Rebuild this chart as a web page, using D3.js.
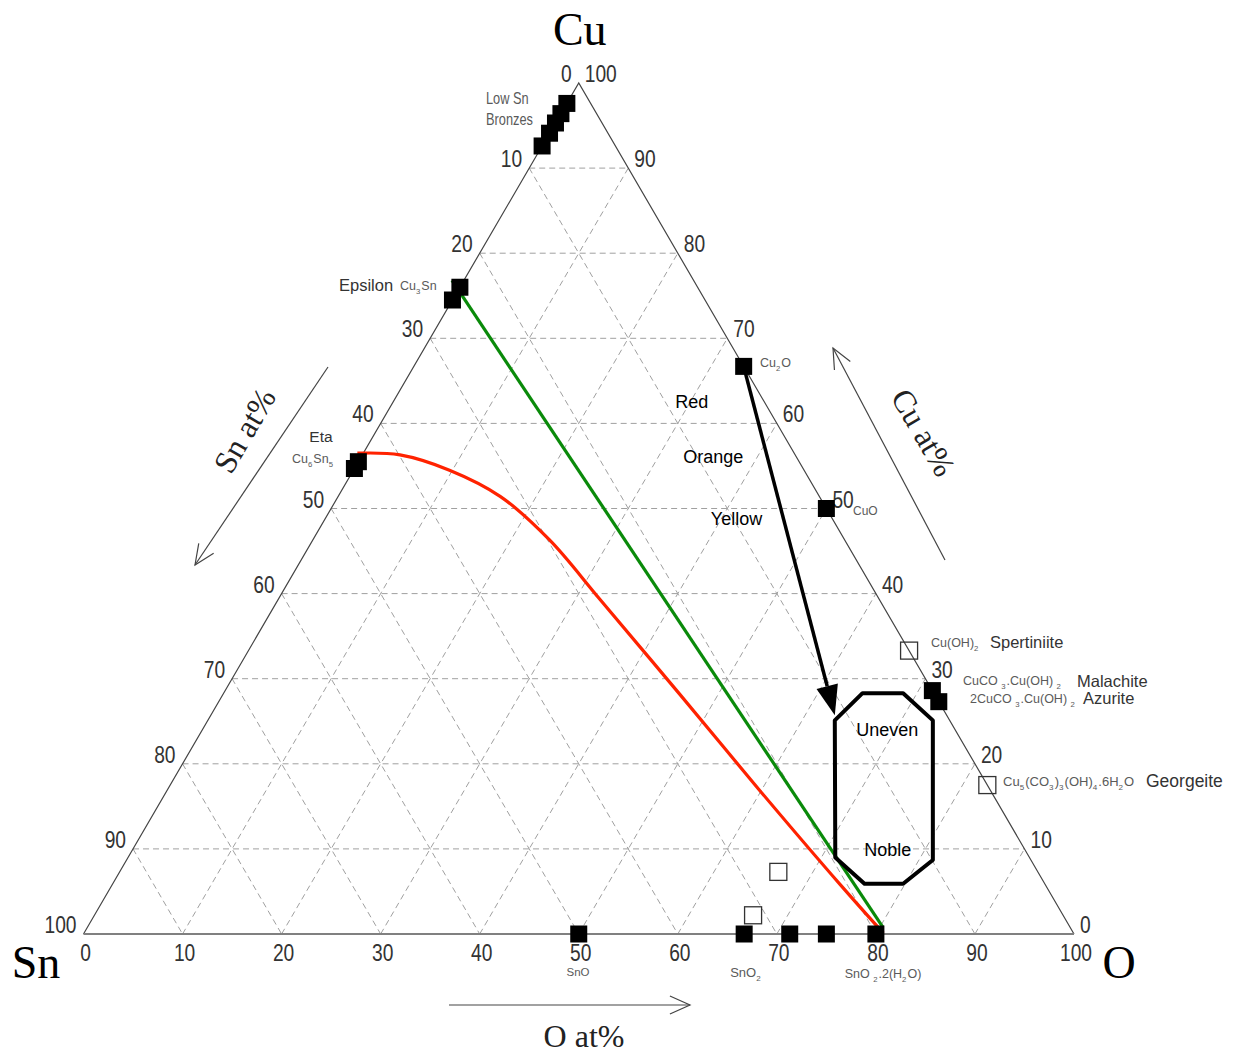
<!DOCTYPE html>
<html>
<head>
<meta charset="utf-8">
<script src="https://cdn.jsdelivr.net/npm/d3@7"></script>
<style>
  body { margin: 0; background: #fff; }
  svg { display: block; }
</style>
</head>
<body>
<svg id="chart" width="1234" height="1053"></svg>
<script>
// ---- Data (atomic %, Sn = 100 - Cu - O) ----
const tickValues = [0, 10, 20, 30, 40, 50, 60, 70, 80, 90, 100];
const gridValues = [10, 20, 30, 40, 50, 60, 70, 80, 90];

// Filled squares
const lowSnBronzeCu = [97.6, 96.4, 95.3, 94.1, 92.6];
const epsilonCu = [76.0, 74.5];
const etaCu = [55.5, 54.7];
const oxideCu = [66.7, 50.0];
const oxideO = [33.3, 50.0];
const carbonateCu = [28.6, 27.3];
const carbonateO = [71.4, 72.7];
const tinOxideO = [50.0, 66.7, 71.3, 75.0, 80.0];

// Open squares
const openCu = [33.3, 17.5, 2.2, 7.3];
const openO = [66.7, 82.5, 66.5, 66.5];

// Red path (Eta towards hydrated tin oxide)
const redCu = [56.5, 56.3, 54.5, 51.4, 46.3, 39.3, 28.1, 16.9, 5.8, 0.1];
const redO  = [-0.6, 3.8, 9.7, 16.4, 23.9, 32.5, 46.2, 59.8, 73.5, 80.7];
// Green path (Epsilon towards hydrated tin oxide)
const greenCu = [76.8, 0.8];
const greenO  = [-1.2, 80.3];
// Colour sequence arrow (Cu2O towards the patina region)
const arrowCu = [66.7, 25.7];
const arrowO  = [33.3, 63.0];
// Patina region outline
const regionCu = [28.3, 28.3, 25.1, 8.7, 5.9, 5.9, 9.0, 25.1];
const regionO  = [64.5, 68.6, 73.2, 81.4, 79.8, 75.9, 71.4, 63.3];

const colourWords = ["Red", "Orange", "Yellow"];
const colourCu = [61.8, 55.35, 48.05];
const colourO  = [30.5, 35.9, 41.9];
const regionWords = ["Uneven", "Noble"];
const regionWordCu = [23.3, 9.2];
const regionWordO  = [69.5, 76.6];

// ---- Scales ----
const svg = d3.select("#chart");
const hScale = d3.scaleLinear().domain([0, 100]).range([83.5, 1074]);   // O + Cu/2
const cuScale = d3.scaleLinear().domain([0, 100]).range([934, 83]);     // Cu
const proj = (cu, o) => [hScale(o + cu / 2), cuScale(cu)];

const SANS = "'Liberation Sans', Arial, Helvetica, sans-serif";
const SERIF = "'Liberation Serif', 'Times New Roman', serif";

// ---- Grid ----
const gridG = svg.append("g")
  .attr("stroke", "#a0a0a0").attr("stroke-width", 1)
  .attr("stroke-dasharray", "6,4").attr("fill", "none");
const line = d3.line();
gridValues.forEach(k => {
  gridG.append("path").attr("d", line([proj(k, 0), proj(k, 100 - k)]));          // constant Cu
  gridG.append("path").attr("d", line([proj(0, k), proj(100 - k, k)]));          // constant O
  gridG.append("path").attr("d", line([proj(100 - k, 0), proj(0, 100 - k)]));    // constant Sn
});

// ---- Triangle edges ----
svg.append("path").attr("d", line([proj(0, 0), proj(100, 0), proj(0, 100)]))
  .attr("fill", "none").attr("stroke", "#444").attr("stroke-width", 1.2);
svg.append("path").attr("d", line([proj(0, 0), proj(0, 100)]))
  .attr("fill", "none").attr("stroke", "#808080").attr("stroke-width", 2);

// Condensed text: horizontally compressed sans
function narrowText(g, x, y, str, anchor, size, fill) {
  return g.append("text")
    .attr("transform", `translate(${x},${y}) scale(0.8,1)`)
    .attr("text-anchor", anchor).attr("font-family", SANS)
    .attr("font-size", size).attr("fill", fill).text(str);
}

// ---- Tick labels ----
const tickG = svg.append("g");
tickValues.forEach(k => {
  const b = proj(0, k);
  narrowText(tickG, b[0] + 2, b[1] + 27, k, "middle", 24, "#333");
  const l = proj(100 - k, 0);
  narrowText(tickG, l[0] - 7, l[1] - 1, k, "end", 24, "#333");
  const r = proj(k, 100 - k);
  narrowText(tickG, r[0] + 6, r[1] - 1, k, "start", 24, "#333");
});

// ---- Corner and axis titles ----
const apex = proj(100, 0);
svg.append("text").attr("x", apex[0] + 1).attr("y", 45).attr("text-anchor", "middle")
  .attr("font-family", SERIF).attr("font-size", 46).text("Cu");
svg.append("text").attr("x", 36).attr("y", 978).attr("text-anchor", "middle")
  .attr("font-family", SERIF).attr("font-size", 46).text("Sn");
svg.append("text").attr("x", 1119).attr("y", 978).attr("text-anchor", "middle")
  .attr("font-family", SERIF).attr("font-size", 46).text("O");

svg.append("text").attr("x", 584).attr("y", 1047).attr("text-anchor", "middle")
  .attr("font-family", SERIF).attr("font-size", 32).attr("fill", "#222").text("O at%");
svg.append("text").attr("text-anchor", "middle")
  .attr("transform", "translate(254,436) rotate(-59.8)")
  .attr("font-family", SERIF).attr("font-size", 32).attr("fill", "#222").text("Sn at%");
svg.append("text").attr("text-anchor", "middle")
  .attr("transform", "translate(914,438) rotate(59.8)")
  .attr("font-family", SERIF).attr("font-size", 32).attr("fill", "#222").text("Cu at%");

// Direction arrows (open heads)
function openArrow(x1, y1, x2, y2) {
  const g = svg.append("g").attr("stroke", "#444").attr("stroke-width", 1.2).attr("fill", "none");
  g.append("path").attr("d", line([[x1, y1], [x2, y2]]));
  const a = Math.atan2(y2 - y1, x2 - x1), L = 22, s = 0.42;
  g.append("path").attr("d", line([
    [x2 - L * Math.cos(a - s), y2 - L * Math.sin(a - s)],
    [x2, y2],
    [x2 - L * Math.cos(a + s), y2 - L * Math.sin(a + s)]
  ]));
}
openArrow(328, 367, 195, 565);
openArrow(945, 560, 833, 348);
openArrow(449, 1005, 690, 1005);

// ---- Paths ----
const curve = d3.line().curve(d3.curveCatmullRom.alpha(0.5));
svg.append("path")
  .attr("d", curve(redCu.map((c, i) => proj(c, redO[i]))))
  .attr("fill", "none").attr("stroke", "#ff2200").attr("stroke-width", 3.2);
svg.append("path")
  .attr("d", line(greenCu.map((c, i) => proj(c, greenO[i]))))
  .attr("fill", "none").attr("stroke", "#0a8a0a").attr("stroke-width", 3.2);

// Patina region outline
svg.append("path")
  .attr("d", line(regionCu.map((c, i) => proj(c, regionO[i]))) + "Z")
  .attr("fill", "none").attr("stroke", "#000").attr("stroke-width", 4)
  .attr("stroke-linejoin", "round");

// Colour sequence arrow
{
  const p0 = proj(arrowCu[0], arrowO[0]), p1 = proj(arrowCu[1], arrowO[1]);
  const a = Math.atan2(p1[1] - p0[1], p1[0] - p0[0]), L = 30, w = 11;
  const base = [p1[0] - L * Math.cos(a), p1[1] - L * Math.sin(a)];
  svg.append("path").attr("d", line([p0, base]))
    .attr("stroke", "#000").attr("stroke-width", 3.5).attr("fill", "none");
  svg.append("path").attr("d", line([
    p1,
    [base[0] + w * Math.sin(a), base[1] - w * Math.cos(a)],
    [base[0] - w * Math.sin(a), base[1] + w * Math.cos(a)]
  ]) + "Z").attr("fill", "#000");
}

// ---- Squares ----
const S = 17;
const filled = [
  ...lowSnBronzeCu.map(c => [c, 0]),
  ...epsilonCu.map(c => [c, 0]),
  ...etaCu.map(c => [c, 0]),
  ...oxideCu.map((c, i) => [c, oxideO[i]]),
  ...carbonateCu.map((c, i) => [c, carbonateO[i]]),
  ...tinOxideO.map(o => [0, o])
];
svg.append("g").selectAll("rect").data(openCu.map((c, i) => [c, openO[i]])).join("rect")
  .attr("x", d => proj(d[0], d[1])[0] - S / 2).attr("y", d => proj(d[0], d[1])[1] - S / 2)
  .attr("width", S).attr("height", S)
  .attr("fill", "none").attr("stroke", "#333").attr("stroke-width", 1.3);
svg.append("g").selectAll("rect").data(filled).join("rect")
  .attr("x", d => proj(d[0], d[1])[0] - S / 2).attr("y", d => proj(d[0], d[1])[1] - S / 2)
  .attr("width", S).attr("height", S).attr("fill", "#000");

// ---- Text annotations ----
// "{n}" marks a subscript
function formula(sel, str, size) {
  const parts = str.split(/(\{[^}]*\})/).filter(s => s.length);
  parts.forEach(p => {
    if (p.startsWith("{")) {
      sel.append("tspan").attr("font-size", size * 0.62).attr("dy", size * 0.28).text(p.slice(1, -1));
      sel.append("tspan").attr("font-size", size).attr("dy", -size * 0.28).text("\u200a");
    } else {
      sel.append("tspan").attr("font-size", size).text(p);
    }
  });
}
function label(x, y, str, size, fill, anchor) {
  const t = svg.append("text").attr("x", x).attr("y", y)
    .attr("font-family", SANS).attr("fill", fill)
    .attr("text-anchor", anchor || "start");
  formula(t, str, size);
  return t;
}
const G = "#5a5a5a", D = "#333";
narrowText(svg, 486, 104, "Low Sn", "start", 16, G);
narrowText(svg, 486, 125, "Bronzes", "start", 16, G);
label(339, 291, "Epsilon", 16.5, D);
label(400, 290, "Cu{3}Sn", 12.5, G);
label(321, 442, "Eta", 15.5, D, "middle");
label(313, 463, "Cu{6}Sn{5}", 12.5, G, "middle");
label(760, 367, "Cu{2}O", 12.5, G);
label(853, 515, "CuO", 12, G);
label(931, 647, "Cu(OH){2}", 12.5, G);
label(990, 648, "Spertiniite", 16.5, D);
label(963, 685, "CuCO {3}.Cu(OH) {2}", 12.5, G);
label(1077, 687, "Malachite", 16.5, D);
label(970, 703, "2CuCO {3}.Cu(OH) {2}", 12.5, G);
label(1083, 704, "Azurite", 16.5, D);
label(1003, 786, "Cu{5}(CO{3}){3}(OH){4}.6H{2}O", 13, G);
label(1146, 787, "Georgeite", 17.5, D);
label(578, 976, "SnO", 11.5, G, "middle");
label(746, 977, "SnO{2}", 13, G, "middle");
label(883, 978, "SnO {2}.2(H{2}O)", 12.5, G, "middle");

colourWords.forEach((w, i) => {
  const p = proj(colourCu[i], colourO[i]);
  svg.append("text").attr("x", p[0]).attr("y", p[1]).attr("text-anchor", "middle")
    .attr("font-family", SANS).attr("font-size", 18).attr("fill", "#000").text(w);
});
regionWords.forEach((w, i) => {
  const p = proj(regionWordCu[i], regionWordO[i]);
  svg.append("text").attr("x", p[0]).attr("y", p[1]).attr("text-anchor", "middle")
    .attr("font-family", SANS).attr("font-size", 18).attr("fill", "#000").text(w);
});
</script>
</body>
</html>
